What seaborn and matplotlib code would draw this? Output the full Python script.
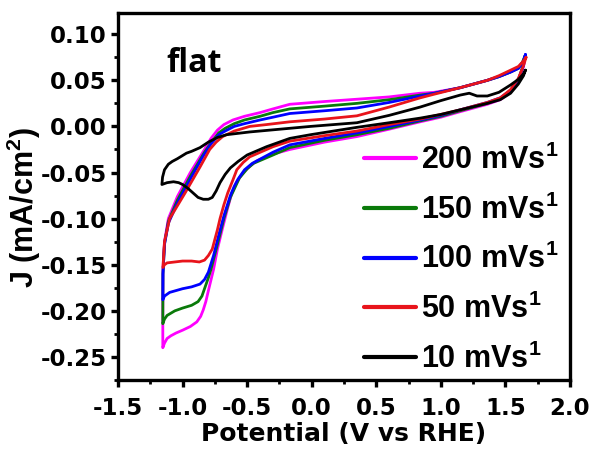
import numpy as np
import pandas as pd
import matplotlib
matplotlib.use("Agg")
import matplotlib.pyplot as plt
import seaborn as sns
from matplotlib.ticker import MultipleLocator
from matplotlib.lines import Line2D

# ---------------- data ----------------
rates = ["200", "150", "100", "50", "10"]
colors = ["#FF00FF", "#0A7A0A", "#0000FF", "#E8141B", "#000000"]

pot_200 = [1.655, 1.64, 1.60, 1.54, 1.45, 1.36, 1.15, 0.95, 0.84, 0.60, 0.35, 0.10, -0.17, -0.30, -0.40,
           -0.52, -0.61, -0.68, -0.73, -0.78, -0.83, -0.94, -1.04, -1.11, -1.14, -1.152, -1.153, -1.153,
           -1.14, -1.12, -1.09, -1.05, -1.00, -0.94, -0.89, -0.86, -0.84, -0.82, -0.80, -0.76, -0.73,
           -0.69, -0.65, -0.62, -0.58, -0.53, -0.47, -0.42, -0.30, -0.17, 0.10, 0.35, 0.60, 0.84,
           1.00, 1.15, 1.36, 1.46, 1.54, 1.60, 1.64, 1.655]
cur_200 = [0.077, 0.071, 0.063, 0.059, 0.054, 0.050, 0.042, 0.037, 0.036, 0.032, 0.0295, 0.027, 0.024, 0.019, 0.015,
           0.011, 0.007, 0.002, -0.004, -0.013, -0.025, -0.050, -0.076, -0.100, -0.125, -0.155, -0.200, -0.240,
           -0.235, -0.230, -0.227, -0.224, -0.221, -0.217, -0.212, -0.206, -0.199, -0.190, -0.178, -0.155, -0.133,
           -0.110, -0.088, -0.073, -0.060, -0.050, -0.042, -0.037, -0.030, -0.025, -0.017, -0.011, -0.003, 0.005,
           0.010, 0.016, 0.024, 0.029, 0.037, 0.049, 0.065, 0.077]

pot_150 = [1.65, 1.63, 1.60, 1.54, 1.45, 1.36, 1.15, 0.95, 0.84, 0.60, 0.35, 0.10, -0.17, -0.30, -0.40,
           -0.52, -0.60, -0.67, -0.72, -0.77, -0.83, -0.94, -1.04, -1.11, -1.14, -1.152, -1.153,
           -1.14, -1.12, -1.06, -1.00, -0.93, -0.88, -0.85, -0.83, -0.80, -0.78, -0.73,
           -0.68, -0.63, -0.59, -0.56, -0.50, -0.45, -0.30, -0.17, 0.10, 0.35, 0.60, 0.84,
           1.00, 1.15, 1.36, 1.46, 1.54, 1.60, 1.63, 1.65]
cur_150 = [0.076, 0.069, 0.063, 0.059, 0.054, 0.050, 0.042, 0.036, 0.034, 0.029, 0.025, 0.022, 0.019, 0.015, 0.011,
           0.007, 0.003, -0.002, -0.007, -0.016, -0.028, -0.054, -0.080, -0.103, -0.127, -0.160, -0.214,
           -0.209, -0.205, -0.200, -0.197, -0.194, -0.190, -0.184, -0.176, -0.164, -0.155, -0.128,
           -0.100, -0.077, -0.065, -0.056, -0.046, -0.040, -0.031, -0.023, -0.015, -0.009, -0.002, 0.006,
           0.011, 0.017, 0.025, 0.030, 0.038, 0.050, 0.063, 0.076]

pot_100 = [1.655, 1.64, 1.60, 1.54, 1.45, 1.36, 1.15, 0.95, 0.84, 0.60, 0.35, 0.10, -0.17, -0.30, -0.40,
           -0.52, -0.60, -0.67, -0.72, -0.78, -0.84, -0.94, -1.04, -1.11, -1.14, -1.152, -1.153,
           -1.14, -1.10, -1.05, -1.00, -0.93, -0.865, -0.83, -0.80, -0.76, -0.72,
           -0.68, -0.63, -0.60, -0.57, -0.52, -0.46, -0.30, -0.17, 0.10, 0.35, 0.60, 0.84,
           1.00, 1.15, 1.36, 1.46, 1.54, 1.60, 1.64, 1.655]
cur_100 = [0.078, 0.071, 0.063, 0.059, 0.054, 0.050, 0.042, 0.036, 0.033, 0.026, 0.020, 0.017, 0.014, 0.010, 0.007,
           0.003, 0.000, -0.005, -0.009, -0.019, -0.032, -0.057, -0.083, -0.105, -0.128, -0.160, -0.188,
           -0.184, -0.180, -0.178, -0.176, -0.174, -0.171, -0.166, -0.158, -0.140, -0.118,
           -0.097, -0.075, -0.065, -0.057, -0.047, -0.040, -0.028, -0.020, -0.013, -0.007, 0.000, 0.007,
           0.012, 0.018, 0.026, 0.031, 0.039, 0.051, 0.066, 0.078]

pot_50 = [1.66, 1.64, 1.60, 1.54, 1.45, 1.36, 1.15, 0.95, 0.84, 0.60, 0.35, 0.10, -0.17, -0.35, -0.48,
          -0.60, -0.69, -0.74, -0.79, -0.865, -0.98, -1.10, -1.14, -1.152,
          -1.14, -1.12, -1.06, -1.00, -0.93, -0.87, -0.83, -0.80, -0.77, -0.73, -0.71, -0.68,
          -0.65, -0.61, -0.58, -0.53, -0.48, -0.30, -0.17, 0.10, 0.35, 0.60, 0.84,
          1.00, 1.15, 1.36, 1.46, 1.54, 1.60, 1.64, 1.66]
cur_50 = [0.075, 0.071, 0.065, 0.061, 0.055, 0.050, 0.042, 0.035, 0.031, 0.021, 0.0115, 0.008, 0.005, 0.002, 0.000,
          -0.005, -0.011, -0.017, -0.025, -0.044, -0.072, -0.100, -0.125, -0.153,
          -0.150, -0.148, -0.147, -0.146, -0.146, -0.147, -0.145, -0.140, -0.133, -0.112, -0.100, -0.085,
          -0.072, -0.058, -0.047, -0.039, -0.033, -0.022, -0.016, -0.010, -0.005, 0.002, 0.008,
          0.013, 0.018, 0.026, 0.031, 0.040, 0.052, 0.066, 0.075]

pot_10 = [1.655, 1.64, 1.60, 1.54, 1.45, 1.36, 1.28, 1.22, 1.15, 1.00, 0.84, 0.60, 0.35, -0.01, -0.48, -0.66,
          -0.73, -0.80, -0.865, -0.93, -0.97, -1.04, -1.08, -1.11, -1.14, -1.155, -1.16,
          -1.12, -1.07, -1.03, -1.00, -0.96, -0.92, -0.88, -0.84, -0.80, -0.77, -0.74, -0.71, -0.67,
          -0.63, -0.57, -0.50, -0.35, -0.17, -0.01, 0.35, 0.60, 0.84,
          1.00, 1.15, 1.36, 1.46, 1.54, 1.60, 1.64, 1.655]
cur_10 = [0.061, 0.057, 0.051, 0.045, 0.037, 0.033, 0.033, 0.036, 0.034, 0.028, 0.021, 0.012, 0.004, 0.000, -0.006, -0.009,
          -0.012, -0.017, -0.023, -0.027, -0.029, -0.035, -0.038, -0.041, -0.047, -0.055, -0.063,
          -0.061, -0.060, -0.061, -0.063, -0.067, -0.072, -0.077, -0.079, -0.079, -0.077, -0.070, -0.061, -0.052,
          -0.045, -0.038, -0.031, -0.022, -0.013, -0.009, -0.001, 0.004, 0.009,
          0.013, 0.018, 0.025, 0.029, 0.036, 0.046, 0.055, 0.061]

x_ticks = [-1.5, -1.0, -0.5, 0.0, 0.5, 1.0, 1.5, 2.0]
y_ticks = [-0.25, -0.20, -0.15, -0.10, -0.05, 0.00, 0.05, 0.10]

series = {"200": (pot_200, cur_200), "150": (pot_150, cur_150), "100": (pot_100, cur_100),
          "50": (pot_50, cur_50), "10": (pot_10, cur_10)}
frames = []
for r in rates:
    p, c = series[r]
    frames.append(pd.DataFrame({"pot": p, "cur": c, "rate": r, "order": np.arange(len(p))}))
df = pd.concat(frames, ignore_index=True)

# ---------------- style ----------------
sns.set_style("ticks")
plt.rcParams["font.family"] = ["DejaVu Sans"]
plt.rcParams["text.color"] = "black"
plt.rcParams["axes.labelcolor"] = "black"
plt.rcParams["xtick.color"] = "black"
plt.rcParams["ytick.color"] = "black"
plt.rcParams["mathtext.fontset"] = "custom"
plt.rcParams["mathtext.rm"] = "Liberation Sans"
plt.rcParams["mathtext.bf"] = "Liberation Sans:bold"
plt.rcParams["mathtext.it"] = "Liberation Sans:italic"

fig = plt.figure(figsize=(5.95, 4.54), dpi=100)
ax = fig.add_axes([118 / 595, 1 - 380 / 454, 452 / 595, 367 / 454])

sns.lineplot(data=df, x="pot", y="cur", hue="rate", hue_order=rates,
             palette=dict(zip(rates, colors)), sort=False, estimator=None,
             linewidth=2.0, ax=ax, legend=False)

ax.set_xlim(-1.5, 2.0)
ax.set_ylim(-0.275, 0.123)
ax.set_xticks(x_ticks)
ax.set_yticks(y_ticks)
ax.set_xticklabels([f"{v:.1f}" for v in x_ticks])
ax.set_yticklabels([f"{v:.2f}" for v in y_ticks])
ax.xaxis.set_minor_locator(MultipleLocator(0.25))
ax.yaxis.set_minor_locator(MultipleLocator(0.025))
for s in ax.spines.values():
    s.set_linewidth(2.4)
    s.set_color("black")
ax.tick_params(which="major", direction="out", length=5, width=2.4, color="black",
               labelcolor="black", labelsize=16.5, left=True, bottom=True, top=False, right=False)
ax.tick_params(which="minor", direction="out", length=3, width=2.0, color="black",
               left=True, bottom=True, top=False, right=False)
ax.tick_params(axis="x", which="major", pad=7)
ax.tick_params(axis="y", which="major", pad=3)
for lab in ax.get_xticklabels() + ax.get_yticklabels():
    lab.set_fontweight("bold")

ax.set_xlabel("Potential (V vs RHE)", fontsize=18, fontweight="bold", labelpad=2, color="black")
ax.set_ylabel("J (mA/cm$^\\mathbf{2}$)", fontsize=22, fontweight="bold",
              family=["Liberation Sans"], color="black")
ax.yaxis.set_label_coords(-0.165, 0.47)

ax.text(0.108, 0.839, "flat", transform=ax.transAxes, fontsize=23, fontweight="bold",
        family=["Open Sans"], va="baseline", ha="left", color="black")

handles = [Line2D([0], [0], color=c, lw=3) for c in colors]
labels = [f"{r} mVs$^\\mathbf{{1}}$" for r in rates]
leg = ax.legend(handles, labels, loc="upper left", bbox_to_anchor=(0.545, 0.641),
                frameon=False, handlelength=1.7, handletextpad=0.15, labelspacing=0.6,
                borderaxespad=0, borderpad=0,
                prop={"family": "Liberation Sans", "weight": "bold", "size": 22})
for t in leg.get_texts():
    t.set_color("black")

fig.savefig("out.png", dpi=100)
